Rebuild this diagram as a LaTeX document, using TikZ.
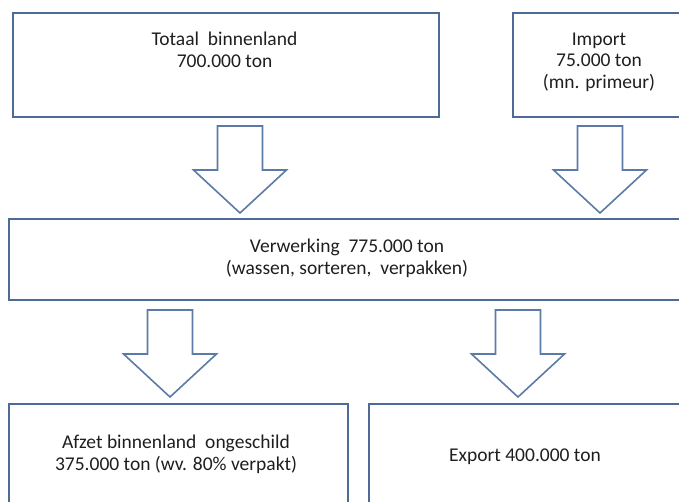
\documentclass[tikz,border=0pt]{standalone}
\usepackage{fontspec}
\setmainfont{Carlito}
\usepackage{tikz}
\usepackage{xcolor}
\usetikzlibrary{positioning, calc}

\definecolor{boxline}{HTML}{4D6B96}
\definecolor{arrline}{HTML}{5B7BA6}
\definecolor{txtcol}{HTML}{1E1E1E}

\begin{document}
\begin{tikzpicture}[x=1pt, y=-1pt,
  box/.style={draw=boxline, line width=2pt, anchor=north west, inner sep=0pt},
  txt/.style={font=\fontsize{19.5}{21.5}\selectfont, text=txtcol, align=center, anchor=base, inner sep=0pt},
  blk/.style={draw=arrline, line width=1.6pt, fill=white, line join=miter},
  pics/downarr/.style={code={
    \draw[blk] (-22.5,0) -- (22.5,0) -- (22.5,44) -- (46.5,44) -- (0,87)
      -- (-46.5,44) -- (-22.5,44) -- cycle;
  }}]
\clip (0,0) rectangle (679,501);

% Supply
\node[box, minimum width=426pt, minimum height=104pt] (tot) at (12,12) {};
\node[box, minimum width=180pt, minimum height=104pt] (imp) at (512,12) {};
\node[txt] (totlbl) at (224.5,67) {Totaal\ \ binnenland\\700.000 ton};
\node[txt] (implbl) at (599,88) {Import\\75.000 ton\\(mn. primeur)};

% Into processing
\pic at ($(tot.south)+(14,8)$) {downarr};
\pic at ($(imp.south west)+(88,8)$) {downarr};

% Processing
\node[box, minimum width=690pt, minimum height=81pt] (verw) at (8,218) {};
\node[txt] (verwlbl) at (347,274) {Verwerking\ \ 775.000 ton\\(wassen, sorteren,\ \ verpakken)};

% Out of processing
\pic at ($(verw.south west)+(162,9)$) {downarr};
\pic at ($(verw.south west)+(510,9)$) {downarr};

% Sales
\node[box, minimum width=339pt, minimum height=130pt] (afz) at (8,403) {};
\node[box, minimum width=330pt, minimum height=130pt] (exp) at (368,403) {};
\node[txt] (afzlbl) at (176,470) {Afzet binnenland\ \ ongeschild\\375.000 ton (wv. 80\% verpakt)};
\node[txt] (explbl) at (525,461) {Export 400.000 ton};
\end{tikzpicture}
\end{document}
